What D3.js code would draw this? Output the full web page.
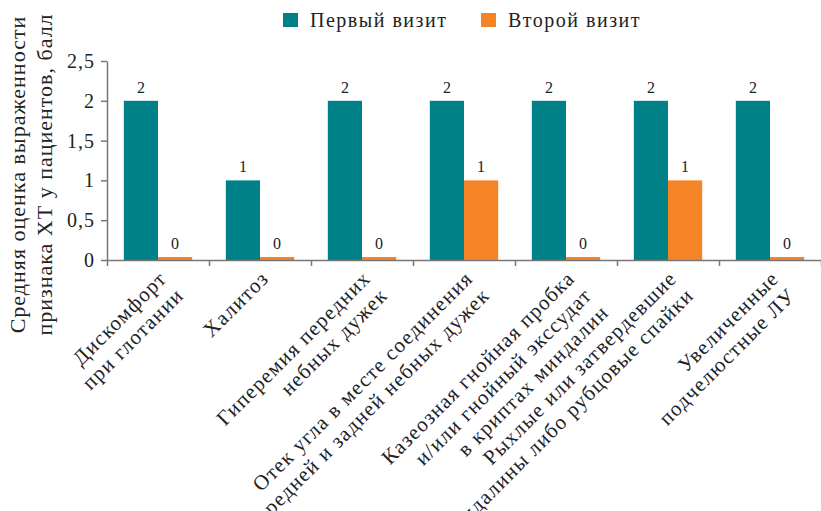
<!DOCTYPE html>
<html lang="ru">
  <head>
    <meta charset="UTF-8" />
    <title>Bar Chart</title>
    <script src="https://cdn.jsdelivr.net/npm/d3@7"></script>
    <style>
      body { margin: 0; background: #fff; }
      svg { display: block; font-family: 'Liberation Serif', serif; }
    </style>
  </head>
  <body>
    <div id="container"></div>
    <script>
      // data
      const categories = [
        ['Дискомфорт', 'при глотании'],
        ['Халитоз'],
        ['Гиперемия передних', 'небных дужек'],
        ['Отек угла в месте соединения', 'передней и задней небных дужек'],
        ['Казеозная гнойная пробка', 'и/или гнойный экссудат', 'в криптах миндалин'],
        ['Рыхлые или затвердевшие', 'миндалины либо рубцовые спайки'],
        ['Увеличенные', 'подчелюстные ЛУ']
      ]
      const seriesNames = ['Первый визит', 'Второй визит']
      const firstVisit = [2, 1, 2, 2, 2, 2, 2]
      const secondVisit = [0, 0, 0, 1, 0, 1, 0]
      const yTicks = [0, 0.5, 1, 1.5, 2, 2.5]
      const yTitle = ['Средняя оценка выраженности', 'признака ХТ у пациентов, балл']

      // setup svg
      const width = 821
      const height = 511
      const marginTop = 61
      const marginRight = 0
      const marginBottom = 251
      const marginLeft = 107
      const colors = ['#008087', '#f58426']

      const rows = categories.map((c, i) => ({ idx: i, lines: c, values: [firstVisit[i], secondVisit[i]] }))

      const xScale = d3.scaleBand()
        .domain(d3.range(categories.length))
        .range([marginLeft, width - marginRight])
        .paddingInner(0.33)
        .paddingOuter(0.165)

      const xInner = d3.scaleBand()
        .domain([0, 1])
        .range([0, xScale.bandwidth()])

      // boundaries between categories, for the tick marks
      const xEdges = d3.scaleLinear()
        .domain([0, categories.length])
        .range([marginLeft, width - marginRight])

      const yScale = d3.scaleLinear()
        .domain([0, 2.5])
        .range([height - marginBottom, marginTop])

      const svg = d3.create('svg')
        .attr('width', width)
        .attr('height', height)
        .attr('viewBox', [0, 0, width, height])

      // bars
      const group = svg.append('g')
        .selectAll('g')
        .data(rows)
        .join('g')
        .attr('transform', d => `translate(${xScale(d.idx)},0)`)

      group.selectAll('rect')
        .data(d => d.values.map((v, s) => ({ v, s })))
        .join('rect')
        .attr('x', d => xInner(d.s))
        .attr('y', d => Math.min(yScale(d.v), yScale(0) - 3))
        .attr('width', xInner.bandwidth())
        .attr('height', d => Math.max(yScale(0) - yScale(d.v), 3))
        .attr('fill', d => colors[d.s])

      group.selectAll('text')
        .data(d => d.values.map((v, s) => ({ v, s })))
        .join('text')
        .attr('x', d => xInner(d.s) + xInner.bandwidth() / 2)
        .attr('y', d => Math.min(yScale(d.v), yScale(0) - 3) - 8)
        .attr('text-anchor', 'middle')
        .attr('font-size', 16)
        .attr('fill', '#222')
        .text(d => d.v)

      // y-axis
      const yAxis = svg.append('g')
        .attr('transform', `translate(${marginLeft},0)`)
        .call(d3.axisLeft(yScale)
          .tickValues(yTicks)
          .tickSize(6)
          .tickSizeOuter(0)
          .tickPadding(6)
          .tickFormat(d => String(d).replace('.', ',')))
      yAxis.selectAll('path, line').attr('stroke', '#777').attr('stroke-width', 1.5)
      yAxis.selectAll('text')
        .attr('font-size', 20)
        .attr('font-family', 'Liberation Serif')
        .attr('letter-spacing', 1)
        .attr('fill', '#222')

      // x-axis
      const xAxis = svg.append('g')
        .attr('transform', `translate(0,${yScale(0)})`)
        .call(d3.axisBottom(xEdges)
          .tickValues(d3.range(categories.length + 1))
          .tickSize(6)
          .tickSizeOuter(0)
          .tickFormat(''))
      xAxis.selectAll('path, line').attr('stroke', '#777').attr('stroke-width', 1.5)

      // category labels, rotated
      svg.append('g')
        .selectAll('text')
        .data(rows)
        .join('text')
        .attr('transform', d => `translate(${xScale(d.idx) + xScale.bandwidth() / 2},${yScale(0)}) rotate(-45)`)
        .attr('text-anchor', 'end')
        .attr('font-size', 21)
        .attr('letter-spacing', 1.2)
        .attr('fill', '#222')
        .selectAll('tspan')
        .data(d => d.lines)
        .join('tspan')
        .attr('x', -7)
        .attr('y', (d, i) => 21 + i * 24)
        .text(d => d)

      // y title
      svg.append('text')
        .attr('transform', `translate(25,${(marginTop + height - marginBottom) / 2 + 14}) rotate(-90)`)
        .attr('text-anchor', 'middle')
        .attr('font-size', 22)
        .attr('letter-spacing', 1)
        .attr('fill', '#222')
        .selectAll('tspan')
        .data(yTitle)
        .join('tspan')
        .attr('x', 0)
        .attr('y', (d, i) => i * 27)
        .text(d => d)

      // legend
      const legendX = [283, 481]
      const legend = svg.append('g')
        .selectAll('g')
        .data(seriesNames)
        .join('g')
        .attr('transform', (d, i) => `translate(${legendX[i]},13)`)
      legend.append('rect')
        .attr('width', 15)
        .attr('height', 14)
        .attr('fill', (d, i) => colors[i])
      legend.append('text')
        .attr('x', 27)
        .attr('y', 14)
        .attr('font-size', 20)
        .attr('letter-spacing', 1.5)
        .attr('fill', '#222')
        .text(d => d)

      container.append(svg.node())
    </script>
  </body>
</html>
